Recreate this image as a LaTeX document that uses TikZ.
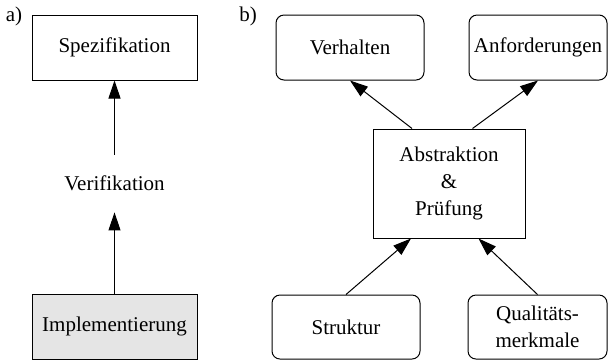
\documentclass[tikz,border=0pt]{standalone}
\usepackage{fontspec}
\setmainfont{Liberation Serif}
\usetikzlibrary{arrows.meta,calc}
\begin{document}
\begin{tikzpicture}[x=0.5pt,y=-0.5pt,
  every node/.style={font=\fontsize{10.5}{13.5}\selectfont},
  box/.style={draw,line width=0.5pt,inner xsep=1pt,inner ysep=0pt,align=center},
  rbox/.style={box,rounded corners=4pt},
  arr/.style={line width=0.5pt,-{Triangle[length=9pt,width=6pt]}}]
\useasboundingbox (0,0) rectangle (608,361);
% part a
\node (la) at (14,16) {a)};
\node[box,minimum width=82.5pt,minimum height=32.5pt] (spec) at (114.5,47.5) {Spezifikation};
\node[box,fill=black!10,minimum width=82.5pt,minimum height=32.5pt] (impl) at (114.5,326.5) {Implementierung};
\node[inner sep=0pt,minimum height=28.5pt] (verif) at (114.5,183.5) {Verifikation};
\draw[arr] (impl) -- (verif);
\draw[arr] (verif) -- (spec);
% part b
\node (lb) at (248,16) {b)};
\node[rbox,minimum width=74pt,minimum height=32.5pt] (verh) at (350,47.5) {Verhalten};
\node[rbox,minimum width=69pt,minimum height=32.5pt] (anf) at (538,47.5) {Anforderungen};
\node[box,minimum width=76pt,minimum height=54.5pt] (abs) at (449,183.5) {Abstraktion\\\&\\Prüfung};
\node[rbox,minimum width=74pt,minimum height=32pt] (struk) at (346,327) {Struktur};
\node[rbox,minimum width=69.5pt,minimum height=32pt] (qual) at (537.5,327) {Qualitäts-\\merkmale};
\draw[arr] ($(abs.north)+(-37,0)$) -- (verh.south);
\draw[arr] ($(abs.north)+(23.5,0)$) -- (anf.south);
\draw[arr] (struk.north) -- ($(abs.south)+(-38,0)$);
\draw[arr] (qual.north) -- ($(abs.south)+(29.5,0)$);
\end{tikzpicture}
\end{document}
